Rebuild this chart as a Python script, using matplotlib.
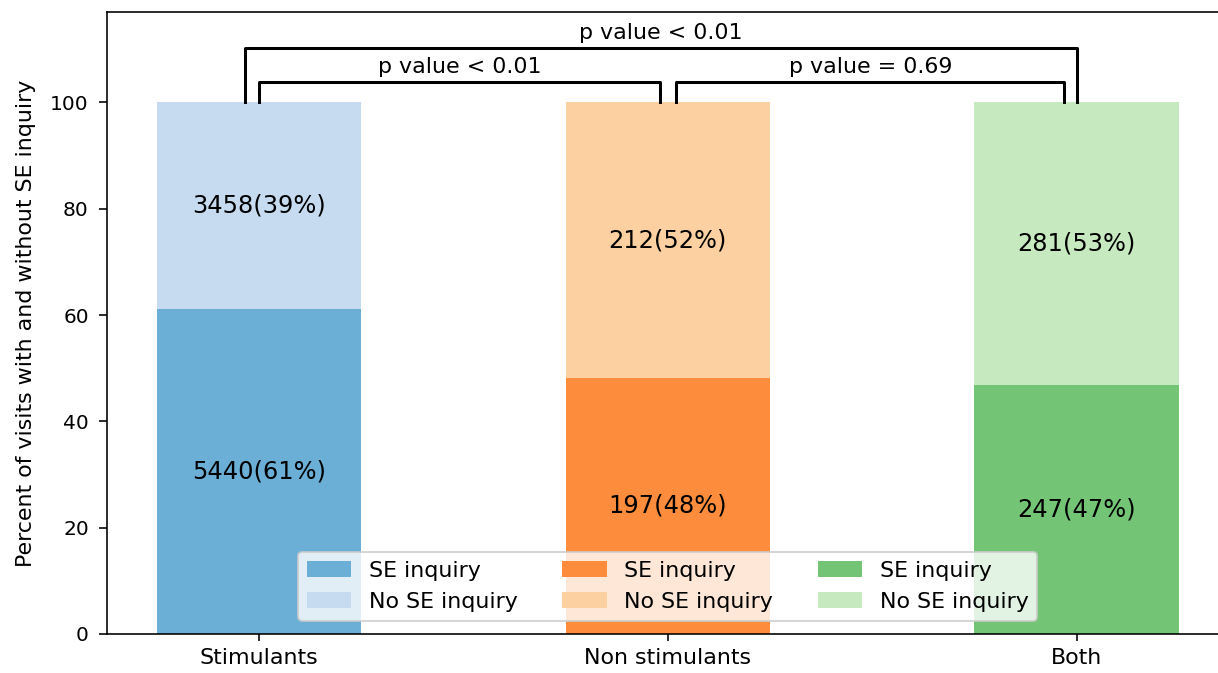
import matplotlib
matplotlib.use("Agg")
import matplotlib.pyplot as plt

# data
groups = ["Stimulants", "Non stimulants", "Both"]
se_counts = [5440, 197, 247]
no_se_counts = [3458, 212, 281]
se_pct = [61.1, 48.2, 46.8]
no_se_pct = [38.9, 51.8, 53.2]
se_labels = ["5440(61%)", "197(48%)", "247(47%)"]
no_se_labels = ["3458(39%)", "212(52%)", "281(53%)"]

# colours (tab20c: dark / light pairs)
dark_colors = ["#6baed6", "#fd8d3c", "#74c476"]
light_colors = ["#c6dbef", "#fdd0a2", "#c7e9c0"]

# significance brackets: (x_left, x_right, height, text)
brackets = [
    (-0.035, 2.0, 110.3, "p value < 0.01"),
    (0.0, 0.98, 103.8, "p value < 0.01"),
    (1.02, 1.97, 103.8, "p value = 0.69"),
]


def main():
    fig = plt.figure(figsize=(1218 / 145, 673 / 145), dpi=145)
    # right spine of the reference is cut off at the image edge
    ax = fig.add_axes([0.0878, 0.058, 0.921, 0.924])

    x = list(range(len(groups)))
    handles = []
    for i in x:
        b1 = ax.bar(i, se_pct[i], width=0.5, color=dark_colors[i], label="SE inquiry")
        b2 = ax.bar(i, no_se_pct[i], width=0.5, bottom=se_pct[i],
                    color=light_colors[i], label="No SE inquiry")
        handles += [b1, b2]
        ax.text(i, se_pct[i] / 2, se_labels[i], ha="center", va="center", fontsize=12)
        ax.text(i, se_pct[i] + no_se_pct[i] / 2, no_se_labels[i],
                ha="center", va="center", fontsize=12)

    # brackets with p values
    for x0, x1, h, txt in brackets:
        ax.plot([x0, x0, x1, x1], [100, h, h, 100], color="black", lw=1.5)
        ax.text((x0 + x1) / 2, h + 0.9, txt, ha="center", va="bottom", fontsize=11)

    ax.set_xlim(-0.372, 2.372)
    ax.set_ylim(0, 117)
    ax.set_xticks(x)
    ax.set_xticklabels(groups, fontsize=11)
    ax.tick_params(axis="y", labelsize=10, length=4, pad=5)
    ax.set_ylabel("Percent of visits with and without SE inquiry", fontsize=11, labelpad=7)

    ax.legend(handles=handles, ncol=3, loc="lower center", fontsize=11,
              bbox_to_anchor=(0.5, 0.0), borderaxespad=0.6)

    fig.savefig("out.png", dpi=145)


if __name__ == "__main__":
    main()
